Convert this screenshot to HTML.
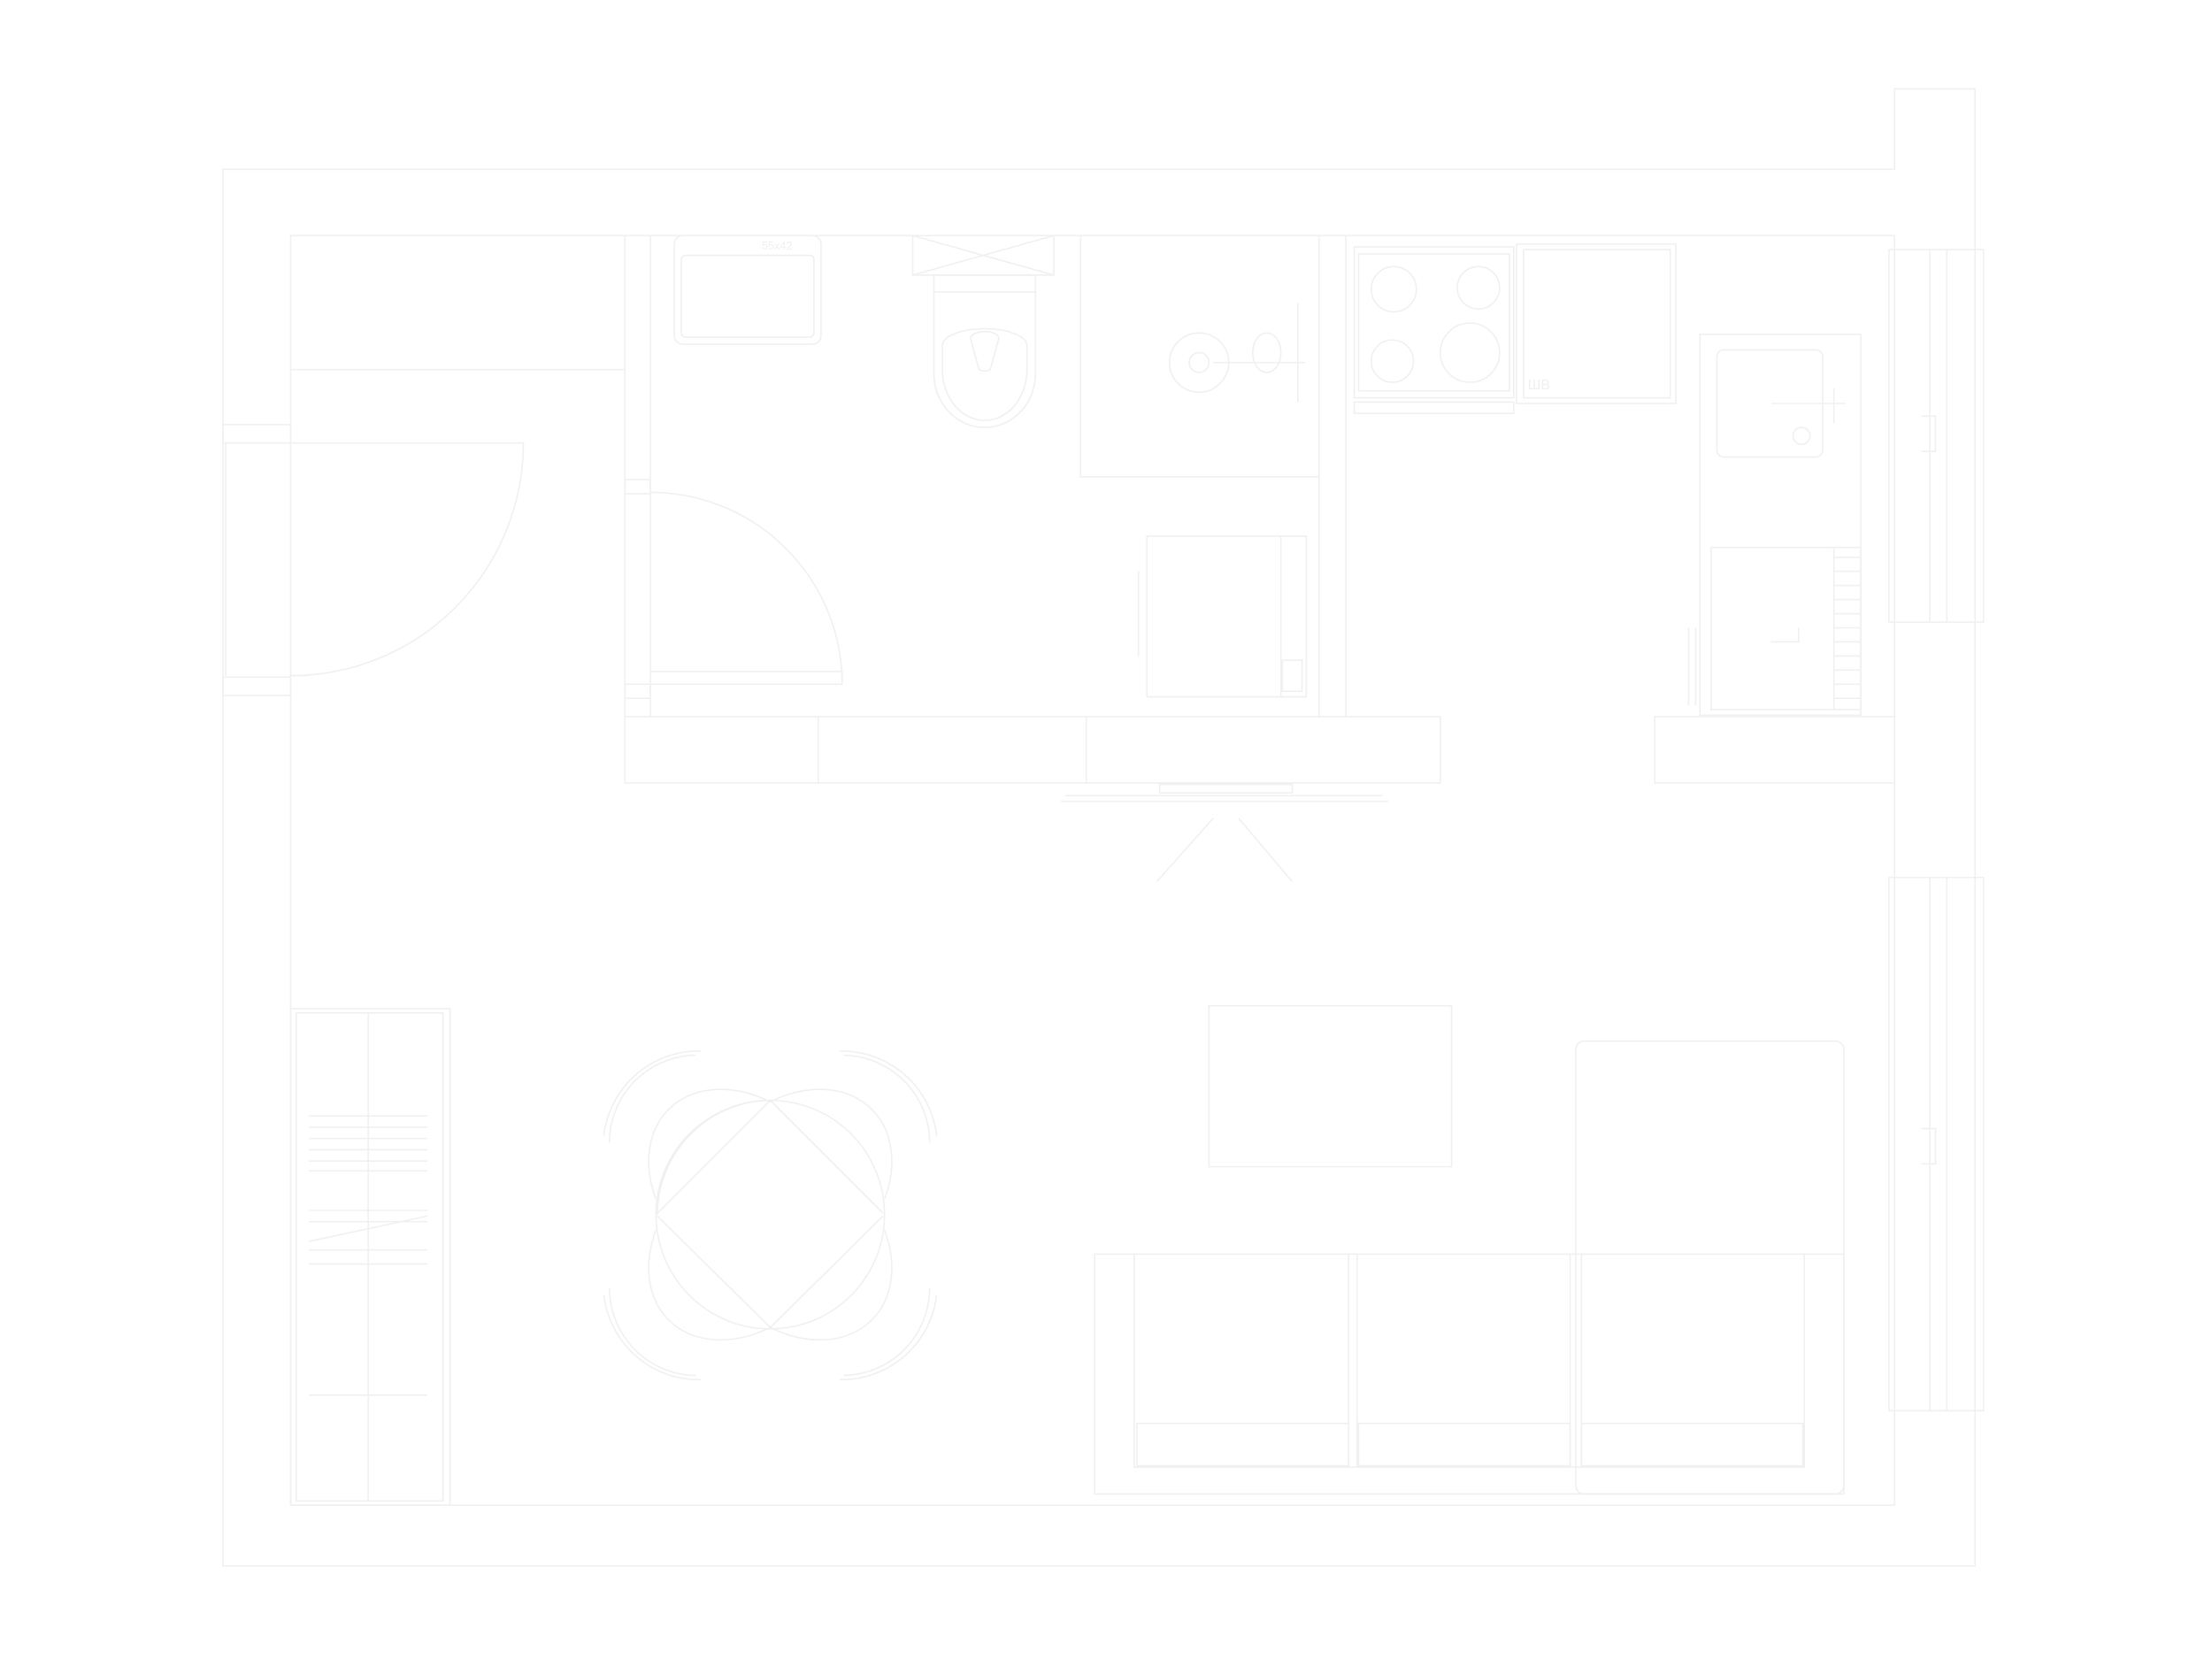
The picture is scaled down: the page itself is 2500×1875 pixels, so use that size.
<!DOCTYPE html>
<html><head><style>html,body{margin:0;padding:0;background:#fff}svg{display:block}</style></head>
<body>
<svg width="2500" height="1875" viewBox="0 0 1568 1176" xmlns="http://www.w3.org/2000/svg" fill="none" stroke="#f0f0f0" stroke-width="1">
<!-- outer walls -->
<path d="M158 120 H1343 V63 H1400 V1110 H158 Z"/>
<path d="M206 167 H1343 V1067 H206 Z"/>
<path d="M206 262 H443"/>
<rect x="158" y="301" width="48" height="13"/>
<rect x="158" y="480" width="48" height="13"/>
<path d="M206 314 H371 A165 165 0 0 1 206 479"/>
<path d="M160 314 V479"/>
<!-- bathroom walls -->
<path d="M443 167 V508 M461 167 V508"/>
<rect x="443" y="508" width="578" height="47"/>
<path d="M580 508 V555 M770 508 V555"/>
<rect x="1173" y="508" width="170" height="47"/>
<path d="M935 167 V508 M954 167 V508"/>
<path d="M461 349 A136 136 0 0 1 597 485 M461 476 H597 V485 H461"/>
<rect x="443" y="340" width="18" height="10"/><rect x="443" y="485" width="18" height="10"/>
<!-- sink -->
<rect x="478" y="167" width="104" height="77" rx="6"/>
<rect x="483" y="181" width="94" height="58" rx="3"/>
<text x="540" y="177" font-family="Liberation Sans, sans-serif" font-size="8" fill="#f0f0f0" stroke="none">55x42</text>
<!-- toilet -->
<path d="M647 167 H747 V195 H647 Z M647 167 L747 195 M747 167 L647 195"/>
<rect x="662" y="195" width="72" height="12"/>
<path d="M662 207 V265 A36 38 0 0 0 734 265 V207"/>
<path d="M668 245 A30 12 0 0 1 728 245 V262 A30 36 0 0 1 668 262 Z"/>
<path d="M688 240 A10 5 0 0 1 708 240 L702 262 A6 4 0 0 1 694 262 Z"/>
<!-- shower -->
<path d="M766 167 V338 H935"/>
<circle cx="850" cy="257" r="21"/><circle cx="850" cy="257" r="7"/>
<path d="M860 257 H925 M920 215 V285"/><ellipse cx="898" cy="250" rx="10" ry="14"/>
<!-- washing machine -->
<rect x="813" y="380" width="113" height="114"/>
<path d="M908 380 V494 M807 405 V465"/>
<rect x="909" y="468" width="14" height="22"/>
<!-- kitchen stove -->
<rect x="960" y="175" width="113" height="107"/><rect x="963" y="180" width="107" height="97"/>
<circle cx="988" cy="205" r="16"/><circle cx="1048" cy="204" r="15"/>
<circle cx="987" cy="256" r="15"/><circle cx="1042" cy="250" r="21"/>
<rect x="960" y="285" width="113" height="8"/>
<rect x="1075" y="173" width="113" height="113"/><rect x="1080" y="177" width="104" height="105"/>
<text x="1083" y="276" font-family="Liberation Sans, sans-serif" font-size="10" fill="#f0f0f0" stroke="none">ШВ</text>
<!-- kitchen sink & fridge -->
<rect x="1205" y="237" width="114" height="270"/>
<rect x="1217" y="248" width="75" height="76" rx="5"/>
<circle cx="1277" cy="309" r="6"/><path d="M1256 286 H1308 M1300 275 V300"/>
<rect x="1213" y="388" width="106" height="115"/>
<path d="M1300 388 V503 M1300 395 H1319 M1300 405 H1319 M1300 415 H1319 M1300 425 H1319 M1300 435 H1319 M1300 445 H1319 M1300 455 H1319 M1300 465 H1319 M1300 475 H1319 M1300 485 H1319 M1300 495 H1319"/>
<path d="M1197 445 V500 M1202 445 V500 M1255 455 H1275 V445"/>
<!-- windows -->
<rect x="1339" y="177" width="67" height="264"/><path d="M1368 177 V441 M1380 177 V441"/>
<rect x="1339" y="622" width="67" height="378"/><path d="M1368 622 V1000 M1380 622 V1000"/>
<path d="M1362 295 H1372 V320 H1362 M1362 800 H1372 V825 H1362"/>
<!-- TV -->
<path d="M752 568 H984 M755 564 H980 M822 556 H916 V562 H822 Z"/>
<path d="M860 580 L820 625 M878 580 L916 625"/>
<!-- wardrobe -->
<rect x="206" y="715" width="113" height="352"/><rect x="210" y="718" width="104" height="346"/>
<path d="M261 718 V1064"/>
<path d="M219 791 H303 M219 799 H303 M219 807 H303 M219 815 H303 M219 823 H303 M219 830 H303 M219 858 H303 M219 866 H303 M219 880 L303 862 M219 886 H303 M219 896 H303 M219 989 H303"/>
<!-- table -->
<circle cx="546" cy="861" r="81"/>
<path d="M546 780 A81 81 0 0 0 466 861 M465 850 A60 80 -45 0 1 546 781 A60 80 45 0 1 627 850 M465 872 A60 80 45 0 0 546 941 A60 80 -45 0 0 627 872"/>
<path d="M546 780 L466 860 M546 780 L626 860 M466 862 L546 941 M626 862 L546 941"/>
<path d="M493 748 A62 62 0 0 0 432 810 M497 745 A68 68 0 0 0 428 805"/>
<path d="M598 748 A62 62 0 0 1 659 810 M595 745 A68 68 0 0 1 664 805"/>
<path d="M493 975 A62 62 0 0 1 432 913 M497 978 A68 68 0 0 1 428 918"/>
<path d="M598 975 A62 62 0 0 0 659 913 M595 978 A68 68 0 0 0 664 918"/>
<!-- coffee table -->
<rect x="857" y="713" width="172" height="114"/>
<!-- sofa -->
<rect x="776" y="889" width="531" height="170"/>
<path d="M804 889 V1040 H1279 V889"/>
<rect x="1117" y="738" width="190" height="321" rx="6"/>
<path d="M1121 889 V1040"/>
<rect x="806" y="1009" width="150" height="30"/><rect x="963" y="1009" width="150" height="30"/><rect x="1121" y="1009" width="157" height="30"/>
<path d="M956 889 V1040 M962 889 V1040 M1113 889 V1040"/>
</svg>
</body></html>
